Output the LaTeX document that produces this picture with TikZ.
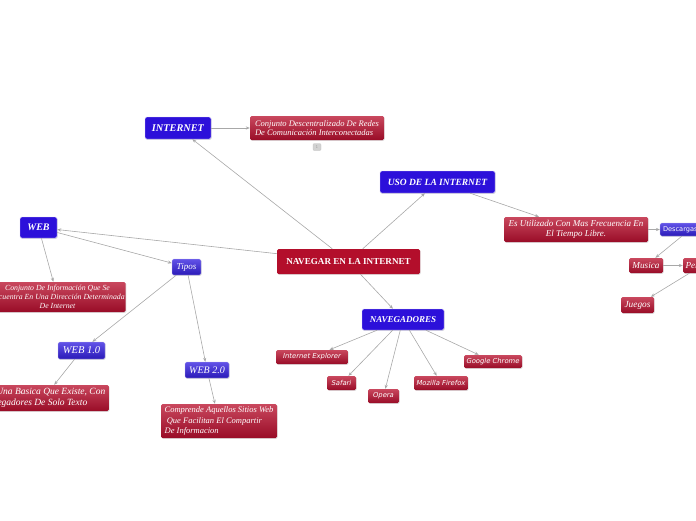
\documentclass[tikz,border=0pt]{standalone}
\usepackage{fontspec}
\setmainfont{Liberation Serif}
\newfontfamily\vsans{DejaVu Sans}
\usetikzlibrary{arrows.meta,shadows}
\definecolor{solidblue}{HTML}{2C10DA}
\definecolor{bluetop}{HTML}{6253E8}
\definecolor{bluebot}{HTML}{2A1AB8}
\definecolor{redtop}{HTML}{C9485E}
\definecolor{redbot}{HTML}{990C27}
\definecolor{rootred}{HTML}{B30E2B}
\definecolor{edgegray}{HTML}{A8A8A8}
\tikzset{
  box/.style={rounded corners=1.5pt, inner sep=1pt, text=white,
    drop shadow={opacity=0.25, shadow xshift=0.7pt, shadow yshift=-0.9pt}},
  bluesolid/.style={box, fill=solidblue, draw=white!80!solidblue, line width=0.4pt},
  bluegrad/.style={box, top color=bluetop, bottom color=bluebot, draw=white!70!bluebot, line width=0.3pt},
  redgrad/.style={box, top color=redtop, bottom color=redbot},
  rootbox/.style={box, fill=rootred},
  conn/.style={draw=edgegray, line width=0.6pt, -{Stealth[length=4pt,width=3.2pt]}},
  fB/.style={font=\fontsize{8.5}{9.8}\selectfont\itshape},
  fC/.style={font=\fontsize{6.8}{7.5}\selectfont\vsans\itshape},
}
\begin{document}
\begin{tikzpicture}[x=1pt,y=-1pt]
\useasboundingbox (0,0) rectangle (696,520);
\clip (0,0) rectangle (696,520);
% root
\node[rootbox, minimum width=143pt, minimum height=25pt, font=\fontsize{9.1}{10}\selectfont\bfseries] (root) at (348.5,261.5) {NAVEGAR EN LA INTERNET};
% INTERNET branch
\node[bluesolid, font=\fontsize{10.3}{11}\selectfont\bfseries\itshape, minimum width=66pt, minimum height=22pt] (internet) at (178,128) {INTERNET};
\node[redgrad, fB, minimum width=134pt, minimum height=24pt, align=left] (conj1) at (317,128) {Conjunto Descentralizado De Redes\\De Comunicación Interconectadas};
\node[rounded corners=1pt, fill=gray!35, draw=gray!50, line width=0.3pt, minimum width=8pt, minimum height=7pt, inner sep=0pt, text=gray!70, font=\fontsize{4}{4}\selectfont\vsans] (badge) at (317,147) {1};
% USO branch
\node[bluesolid, font=\fontsize{9.5}{10}\selectfont\bfseries\itshape, minimum width=115pt, minimum height=22pt] (uso) at (437.5,182) {USO DE LA INTERNET};
\node[redgrad, font=\fontsize{9}{10}\selectfont\itshape, minimum width=144pt, minimum height=25pt, align=center] (esutil) at (576,229.5) {Es Utilizado Con Mas Frecuencia En\\El Tiempo Libre.};
\node[bluegrad, font=\fontsize{6.6}{7}\selectfont\vsans, minimum width=60pt, minimum height=13pt, text width=54pt, align=left] (desc) at (690,229.5) {Descargas};
\node[redgrad, font=\fontsize{9.2}{10}\selectfont\itshape, minimum width=34pt, minimum height=15pt] (musica) at (646,265.5) {Musica};
\node[redgrad, font=\fontsize{9.2}{10}\selectfont\itshape, minimum width=38pt, minimum height=15pt, text width=33pt, align=left] (pel) at (702,265.5) {Peliculas};
\node[redgrad, font=\fontsize{9.3}{10}\selectfont\itshape, minimum width=33pt, minimum height=16pt] (juegos) at (637.5,305) {Juegos};
% WEB branch
\node[bluesolid, font=\fontsize{10}{11}\selectfont\bfseries\itshape, minimum width=37pt, minimum height=21pt] (web) at (38.5,227.5) {WEB};
\node[bluegrad, font=\fontsize{9}{10}\selectfont\itshape, minimum width=29pt, minimum height=16pt] (tipos) at (186.5,267) {Tipos};
\node[redgrad, font=\fontsize{7.8}{9.2}\selectfont\itshape, minimum width=135pt, minimum height=30pt, align=center] (conjinfo) at (57.5,297) {Conjunto De Información Que Se\\Encuentra En Una Dirección Determinada\\De Internet};
\node[bluegrad, font=\fontsize{10.5}{11}\selectfont\itshape, minimum width=47pt, minimum height=17pt] (web1) at (81.5,350.5) {WEB 1.0};
\node[redgrad, font=\fontsize{9.5}{10.8}\selectfont\itshape, inner xsep=3.5pt, minimum height=26pt, align=right, anchor=east] (basica) at (109,398) {Es Una Basica Que Existe, Con\\Navegadores De Solo Texto\makebox[18pt]{}};
\node[bluegrad, font=\fontsize{10}{11}\selectfont\itshape, minimum width=44pt, minimum height=16pt] (web2) at (207,370) {WEB 2.0};
\node[redgrad, font=\fontsize{8.5}{10.4}\selectfont\itshape, minimum width=116pt, minimum height=34pt, align=left] (comp) at (219,421) {Comprende Aquellos Sitios Web\\\ Que Facilitan El Compartir\\De Informacion};
% NAVEGADORES branch
\node[bluesolid, font=\fontsize{9}{10}\selectfont\bfseries\itshape, minimum width=82pt, minimum height=21pt] (nav) at (403,319.5) {NAVEGADORES};
\node[redgrad, fC, minimum width=72pt, minimum height=14pt] (ie) at (312,357) {Internet Explorer};
\node[redgrad, fC, minimum width=29pt, minimum height=14pt] (safari) at (341.5,383) {Safari};
\node[redgrad, fC, minimum width=31pt, minimum height=14pt] (opera) at (383.5,396) {Opera};
\node[redgrad, fC, minimum width=54pt, minimum height=14pt] (firefox) at (441,383) {Mozilla Firefox};
\node[redgrad, fC, minimum width=58pt, minimum height=13pt] (chrome) at (493,361.5) {Google Chrome};
% connectors
\draw[conn] (root) -- (internet);
\draw[conn] (internet) -- (conj1);
\draw[conn] (root) -- (uso);
\draw[conn] (uso) -- (esutil);
\draw[conn] (esutil) -- (desc);
\draw[conn] (desc) -- (musica);
\draw[conn] (musica) -- (pel);
\draw[conn] (pel) -- (juegos);
\draw[conn] (root) -- (web);
\draw[conn] (web) -- (tipos);
\draw[conn] (web) -- (conjinfo);
\draw[conn] (tipos) -- (web1);
\draw[conn] (tipos) -- (web2);
\draw[conn] (web1) -- (basica);
\draw[conn] (web2) -- (comp);
\draw[conn] (root) -- (nav);
\draw[conn] (nav) -- (ie);
\draw[conn] (nav) -- (safari);
\draw[conn] (nav) -- (opera);
\draw[conn] (nav) -- (firefox);
\draw[conn] (nav) -- (chrome);
\end{tikzpicture}
\end{document}
